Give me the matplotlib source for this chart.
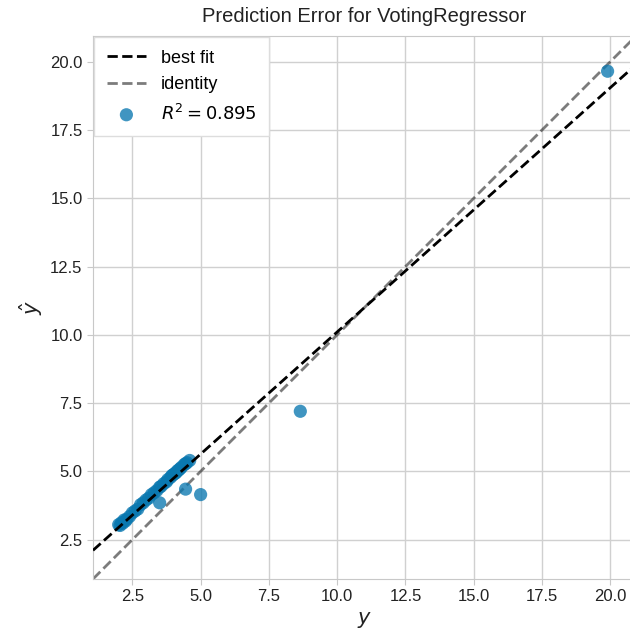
import numpy as np
import matplotlib
matplotlib.use('Agg')
import matplotlib.pyplot as plt

plt.rcParams['font.family'] = ['Liberation Sans', 'DejaVu Sans']
plt.rcParams['mathtext.fontset'] = 'dejavusans'

# 实际值 y 与预测值 y_hat
y_true = [2.00, 2.05, 2.10, 2.15, 2.20, 2.25, 2.30, 2.40, 2.50, 2.60, 2.70, 2.80,
          2.90, 3.00, 3.10, 3.20, 3.30, 3.40, 3.50, 3.55, 3.65, 3.75, 3.80, 3.90,
          3.95, 4.00, 4.05, 4.10, 4.15, 4.20, 4.25, 4.30, 4.40, 4.45, 4.50, 4.60,
          3.50, 4.45, 5.00, 8.65, 19.90]
y_pred = [3.05, 3.02, 3.12, 3.10, 3.22, 3.18, 3.25, 3.35, 3.48, 3.55, 3.62, 3.78,
          3.85, 3.95, 4.02, 4.15, 4.22, 4.30, 4.42, 4.45, 4.55, 4.62, 4.70, 4.78,
          4.85, 4.88, 4.92, 4.95, 5.02, 5.05, 5.10, 5.15, 5.25, 5.28, 5.32, 5.40,
          3.85, 4.35, 4.15, 7.20, 19.65]
r2_text = '0.895'
lims = (1.06, 20.94)
ticks = [2.5, 5.0, 7.5, 10.0, 12.5, 15.0, 17.5, 20.0]

fig = plt.figure(figsize=(6.3, 6.33), dpi=100)
ax = fig.add_axes([93 / 630, 54 / 633, 543 / 630, 543 / 633])

ax.scatter(y_true, y_pred, s=90, color='#0a78b0', alpha=0.78, edgecolors='none',
           label=r'$R^2 = %s$' % r2_text, zorder=3)

# 最佳拟合线
slope, intercept = np.polyfit(y_true, y_pred, 1)
xx = np.array(lims)
ax.plot(xx, slope * xx + intercept, color='k', ls='--', lw=2, label='best fit', zorder=4)

# 恒等线
ax.plot(xx, xx, color='#111111', alpha=0.55, ls='--', lw=2, label='identity', zorder=2)

ax.set_xlim(lims)
ax.set_ylim(lims)
ax.set_xticks(ticks)
ax.set_yticks(ticks)
ax.grid(True, color='#d0d0d0', lw=1)
ax.set_axisbelow(True)
for sp in ax.spines.values():
    sp.set_color('#c8c8c8')
ax.tick_params(length=4, color='#c8c8c8', labelsize=12, labelcolor='#222222')

ax.set_title('Prediction Error for VotingRegressor', fontsize=14.5, color='#222222', pad=10)
ax.set_xlabel(r'$y$', fontsize=15, color='#222222')
ax.set_ylabel(r'$\hat{y}$', fontsize=15, color='#222222')

handles, labels = ax.get_legend_handles_labels()
order = [1, 2, 0]
leg = ax.legend([handles[i] for i in order], [labels[i] for i in order],
                loc='upper left', fontsize=13, frameon=True, framealpha=1,
                edgecolor='#dddddd', fancybox=False, borderpad=0.7, handlelength=2.2,
                borderaxespad=0.05, labelspacing=0.55, handletextpad=0.8)
leg.get_frame().set_linewidth(1)

fig.savefig('out.png', dpi=100, facecolor='white')
